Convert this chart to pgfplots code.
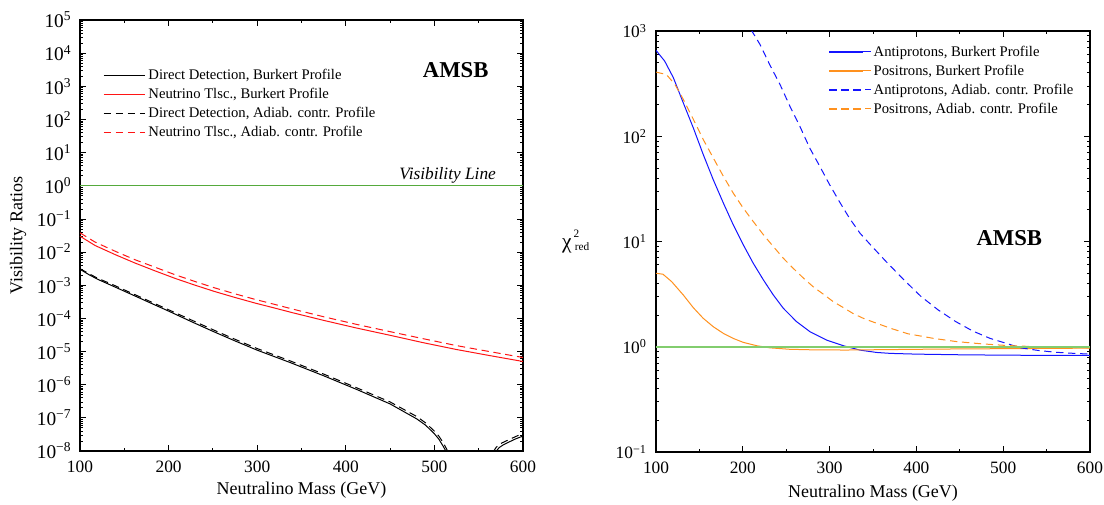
\documentclass[border=0pt]{standalone}
\usepackage{pgfplots}
\pgfplotsset{compat=1.18}
\usepackage{fontspec}
\setmainfont{Liberation Serif}

\definecolor{visgreen}{RGB}{85,170,60}
\definecolor{lightgreen}{RGB}{130,205,110}
\definecolor{curvered}{RGB}{255,20,20}
\definecolor{curveblue}{RGB}{20,20,255}
\definecolor{curveorange}{RGB}{255,145,30}

\newcommand{\tp}[1]{10\textsuperscript{#1}}

\pgfplotsset{
  panel/.style={
    scale only axis,
    xmin=100, xmax=600,
    xtick={100,200,300,400,500,600},
    minor xtick={150,250,350,450,550},
    tick align=inside,
    major tick length=4.5pt,
    minor tick length=2.5pt,
    axis line style={line width=0.9pt},
    every tick/.style={black, line width=0.6pt},
    xticklabel style={font=\fontsize{13}{15}\selectfont, yshift=-4pt},
    label style={font=\fontsize{13.5}{16}\selectfont},
    xlabel={Neutralino Mass (GeV)},
    legend cell align=left,
    legend style={draw=none, fill=none, font=\fontsize{11}{13}\selectfont,
      inner sep=0pt, row sep=1pt},
    legend image code/.code={\draw[line width=1pt] (0pt,0pt) -- (25.5pt,0pt); \path (0pt,0pt) -- (31pt,0pt);},
  },
  curve/.style={line width=0.75pt},
  dashcurve/.style={line width=0.75pt, dash pattern=on 5.5pt off 3.5pt},
}

\begin{document}
\begin{tikzpicture}
\useasboundingbox (-60pt,-39.75pt) rectangle (768pt,338.25pt);

% ---------------- visibility ratios ----------------
\begin{axis}[panel,
  ymode=log,
  at={(0pt,0pt)}, anchor=south west,
  width=332.25pt, height=323.25pt,
  ymin=1e-8, ymax=1e5,
  ytick={1e-8,1e-7,1e-6,1e-5,1e-4,1e-3,1e-2,1e-1,1,10,100,1000,1e4,1e5},
  minor ytick={2e-8,3e-8,4e-8,5e-8,6e-8,7e-8,8e-8,9e-8,
    2e-7,3e-7,4e-7,5e-7,6e-7,7e-7,8e-7,9e-7,
    2e-6,3e-6,4e-6,5e-6,6e-6,7e-6,8e-6,9e-6,
    2e-5,3e-5,4e-5,5e-5,6e-5,7e-5,8e-5,9e-5,
    2e-4,3e-4,4e-4,5e-4,6e-4,7e-4,8e-4,9e-4,
    2e-3,3e-3,4e-3,5e-3,6e-3,7e-3,8e-3,9e-3,
    2e-2,3e-2,4e-2,5e-2,6e-2,7e-2,8e-2,9e-2,
    0.2,0.3,0.4,0.5,0.6,0.7,0.8,0.9,
    2,3,4,5,6,7,8,9,
    20,30,40,50,60,70,80,90,
    200,300,400,500,600,700,800,900,
    2000,3000,4000,5000,6000,7000,8000,9000,
    2e4,3e4,4e4,5e4,6e4,7e4,8e4,9e4},
  yticklabels={\tp{−8},\tp{−7},\tp{−6},\tp{−5},\tp{−4},\tp{−3},\tp{−2},\tp{−1},\tp{0},\tp{1},\tp{2},\tp{3},\tp{4},\tp{5}},
  yticklabel style={font=\fontsize{14.5}{16}\selectfont, xshift=-3pt},
  ylabel={Visibility Ratios},
  ylabel style={at={(axis description cs:-0.14,0.5)}, anchor=center},
  xlabel style={at={(axis description cs:0.5,-0.09)}, anchor=center},
  legend style={at={(axis description cs:0.052,0.893)}, anchor=north west},
  /pgf/number format/assume math mode=true,
]
\addplot[black, curve] coordinates {
(100,3.02e-3) (110,2.09e-3) (120,1.51e-3) (135,1.0e-3) (150,6.61e-4)
(165,4.37e-4) (180,2.88e-4) (200,1.66e-4) (225,8.13e-5) (250,4.07e-5)
(275,2.09e-5) (300,1.10e-5) (337,4.68e-6) (375,1.86e-6) (412,7.24e-7)
(450,2.63e-7) (480,9.33e-8) (490,6.03e-8) (500,3.31e-8) (505,2.29e-8)
(510,1.38e-8) (514,8.91e-9) (517,5.0e-9) (519,2.0e-9)};
\addlegendentry{Direct Detection, Burkert Profile}
\addplot[curvered, curve] coordinates {
(100,3.02e-2) (117,1.58e-2) (140,8.32e-3) (162,4.68e-3) (185,2.69e-3)
(207,1.62e-3) (230,1.00e-3) (252,6.46e-4) (275,4.27e-4) (298,2.88e-4)
(320,2.04e-4) (340,1.48e-4) (375,8.71e-5) (412,5.13e-5) (450,3.09e-5)
(487,1.86e-5) (525,1.15e-5) (562,7.59e-6) (600,5.01e-6)};
\addlegendentry{Neutrino Tlsc., Burkert Profile}
\addplot[black, dashcurve] coordinates {
(100,3.16e-3) (110,2.24e-3) (120,1.62e-3) (135,1.10e-3) (150,7.24e-4)
(165,4.79e-4) (180,3.16e-4) (200,1.82e-4) (225,9.12e-5) (250,4.57e-5)
(275,2.34e-5) (300,1.23e-5) (337,5.25e-6) (375,2.09e-6) (412,8.13e-7)
(450,3.02e-7) (480,1.10e-7) (490,7.08e-8) (500,3.98e-8) (505,2.82e-8)
(510,1.78e-8) (514,1.12e-8) (517,7.08e-9) (520,2.51e-9)};
\addlegendentry{Direct Detection, Adiab. contr. Profile}
\addplot[curvered, dashcurve] coordinates {
(100,3.80e-2) (117,2.00e-2) (140,1.05e-2) (162,5.89e-3) (185,3.47e-3)
(207,2.09e-3) (230,1.29e-3) (252,8.32e-4) (275,5.50e-4) (298,3.72e-4)
(320,2.63e-4) (340,1.91e-4) (375,1.12e-4) (412,6.61e-5) (450,3.98e-5)
(487,2.45e-5) (525,1.51e-5) (562,1.00e-5) (600,6.61e-6)};
\addlegendentry{Neutrino Tlsc., Adiab. contr. Profile}
% branches that come back above the lower bound
\addplot[black, curve, forget plot] coordinates {
(568,4.0e-9) (570,1.0e-8) (573,1.26e-8) (578,1.55e-8) (585,1.91e-8)
(592,2.34e-8) (600,2.82e-8)};
\addplot[black, dashcurve, forget plot] coordinates {
(565,3.98e-9) (567,1.0e-8) (570,1.32e-8) (576,1.74e-8) (584,2.19e-8)
(592,2.75e-8) (600,3.39e-8)};
\addplot[visgreen, line width=0.8pt, forget plot] coordinates {(100,1) (600,1)};
\node[font=\itshape\fontsize{13}{15}\selectfont, anchor=south east, inner sep=1.5pt]
  at (axis cs:572,1) {Visibility Line};
\node[font=\bfseries\fontsize{17}{20}\selectfont] at (axis cs:524,3100) {AMSB};
\end{axis}

% ---------------- reduced chi-square ----------------
\begin{axis}[panel,
  ymode=log,
  at={(432pt,-0.75pt)}, anchor=south west,
  width=325.5pt, height=315.75pt,
  ymin=0.1, ymax=1000,
  ytick={0.1,1,10,100,1000},
  minor ytick={0.2,0.3,0.4,0.5,0.6,0.7,0.8,0.9,
    2,3,4,5,6,7,8,9,
    20,30,40,50,60,70,80,90,
    200,300,400,500,600,700,800,900},
  yticklabels={\tp{−1},\tp{0},\tp{1},\tp{2},\tp{3}},
  yticklabel style={font=\fontsize{13}{15}\selectfont, xshift=-3.5pt},
  ylabel={χ\rlap{\hspace{0.1em}\raisebox{8.3pt}{\fontsize{8.5}{9}\selectfont 2}}\hspace{0.15em}\raisebox{-1.2pt}{\fontsize{8.5}{9}\selectfont red}},
  ylabel style={rotate=-90, at={(axis description cs:-0.185,0.5)}, anchor=center,
    font=\fontsize{16}{18}\selectfont},
  xlabel style={at={(axis description cs:0.5,-0.097)}, anchor=center},
  legend style={at={(axis description cs:0.397,0.972)}, anchor=north west},
  /pgf/number format/assume math mode=true,
]
\addplot[curveblue, curve] coordinates {
(100,655) (110,518) (120,360) (131.5,207) (143,120) (154.5,66.8) (166,38.6)
(177.6,23.2) (189,14.4) (200.6,9.29) (212,6.22) (223.7,4.32) (235.2,3.10)
(246.7,2.32) (262,1.73) (277.4,1.39) (296.6,1.156) (315.8,1.023) (335,0.929)
(354,0.883) (370,0.865) (400,0.851) (450,0.839) (500,0.832) (550,0.828)
(600,0.826)};
\addlegendentry{Antiprotons, Burkert Profile}
\addplot[curveorange, curve] coordinates {
(100,4.99) (108,4.89) (118,4.16) (131.5,3.10) (143,2.35) (154.5,1.86)
(166,1.55) (177.6,1.34) (189,1.20) (200.6,1.10) (216,1.023) (231,0.977)
(254,0.946) (285,0.933) (320,0.931) (370,0.94) (430,0.951) (500,0.959)
(600,0.970)};
\addlegendentry{Positrons, Burkert Profile}
\addplot[curveblue, dashcurve] coordinates {
(205,1318) (210,1014) (220,741) (231,479) (243,309) (254,195) (266,123)
(277,77.6) (289,51.3) (300,34.7) (312,23.4) (323,16.6) (335,12.0)
(347,9.33) (365,6.46) (385,4.37) (405,3.02) (425,2.24) (445,1.74)
(465,1.41) (485,1.20) (500,1.10) (520,0.977) (540,0.923) (560,0.887)
(580,0.867) (600,0.851)};
\addlegendentry{Antiprotons, Adiab. contr. Profile}
\addplot[curveorange, dashcurve] coordinates {
(100,407) (112,386) (122,309) (131.5,224) (143,145) (154.5,92.9) (166,62.2)
(177.6,41.7) (189,28.8) (200.6,20.7) (212,15.5) (223.7,11.6) (235.2,8.95)
(246.7,6.93) (258,5.57) (270,4.48) (281,3.72) (293,3.15) (304,2.69)
(316,2.35) (327,2.07) (339,1.86) (350,1.72) (362,1.585) (370,1.50)
(390,1.33) (420,1.20) (446,1.12) (475,1.066) (504,1.028) (540,1.0)
(600,0.977)};
\addlegendentry{Positrons, Adiab. contr. Profile}
\addplot[lightgreen, line width=1.2pt, forget plot] coordinates {(100,1) (600,1)};
\node[font=\bfseries\fontsize{17}{20}\selectfont] at (axis cs:507,10.8) {AMSB};
\end{axis}
\end{tikzpicture}
\end{document}
